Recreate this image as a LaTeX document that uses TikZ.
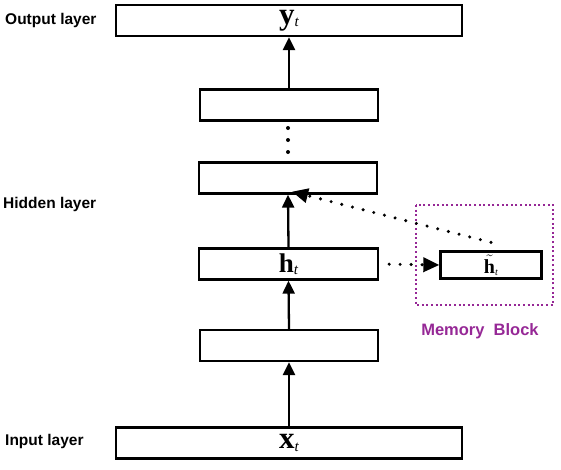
\documentclass[tikz,border=0pt]{standalone}
\usepackage{fontspec}
\setmainfont{Liberation Serif}
\setsansfont{Liberation Sans}
\usetikzlibrary{arrows.meta}
\tikzstyle{network} = [x = 1pt, y = -1pt]
\definecolor{memoryColor}{RGB}{150,40,150}
\tikzstyle{layerBox} = [draw=black, line width=2.3pt, fill=white, inner sep=0pt]
\tikzstyle{layerLink} = [line width=2.3pt, -{Triangle[length=13pt, width=12pt]}]
\tikzstyle{memoryLink} = [line width=3.4pt, line cap=round, dash pattern=on 0pt off 11pt, -{Triangle[length=16pt, width=14pt]}]
\tikzstyle{frameLine} = [draw=memoryColor, line width=2.2pt, dash pattern=on 2pt off 2.6pt]
\tikzstyle{layerText} = [font=\sffamily\bfseries\fontsize{15.5}{16}\selectfont, anchor=west, inner sep=0pt]
\tikzstyle{memoryText} = [font=\sffamily\bfseries\fontsize{16.5}{17}\selectfont, text=memoryColor, inner sep=0pt]
\newcommand{\vecLabel}[2]{{\fontsize{#2}{#2}\selectfont\textbf{#1}}\raisebox{-.25em}{\fontsize{15}{15}\selectfont\textit{t}}}
\newcommand{\layerNode}[5]{\node [layerBox, minimum width=#3pt, minimum height=#4pt] (#1) at #2 {#5};}

\begin{document}
\begin{tikzpicture}[network]
    \useasboundingbox (0,0) rectangle (561,469);
    % layers
    \layerNode{outLayer}{(289,20.5)}{346}{31}{\vecLabel{y}{31}}
    \layerNode{hiddenTop}{(289,105)}{178}{31}{}
    \layerNode{hiddenMid}{(288,178)}{178}{31}{}
    \layerNode{hiddenH}{(288.5,264)}{179}{31}{\vecLabel{h}{27}}
    \layerNode{hiddenLow}{(289,345.5)}{178}{31}{}
    \layerNode{inLayer}{(289,443)}{346}{31}{\vecLabel{x}{31}}
    % memory block
    \draw [frameLine] (416,205) rectangle (553,305);
    \node [layerBox, minimum width=101pt, minimum height=27pt] (memH) at (491,265)
        {{\fontsize{20}{20}\selectfont$\tilde{\hbox{\textbf{h}}}$}\raisebox{-.2em}{\fontsize{10}{10}\selectfont\textit{t}}};
    \node [memoryText] (memLabel) at (480,331) {Memory\ \ Block};
    % labels
    \node [layerText] (outText) at (5,20) {Output layer};
    \node [layerText] (hiddenText) at (3,204) {Hidden layer};
    \node [layerText] (inText) at (5,441) {Input layer};
    % vertical dots
    \foreach \dotY in {128,140,152} {
      \fill (288,\dotY) circle (2pt);
    }
    % connections
    \draw [layerLink] (inLayer.north) -- (hiddenLow.south);
    \draw [layerLink] (hiddenLow.north) -- (hiddenH.south);
    \draw [layerLink] (hiddenH.north) -- (hiddenMid.south);
    \draw [layerLink] (hiddenTop.north) -- (outLayer.south);
    \draw [memoryLink, shorten <=10pt] (hiddenH.east) -- (memH.west);
    \draw [memoryLink] ([yshift=8pt]memH.north) -- ([xshift=4pt, yshift=3pt]hiddenMid.south);
\end{tikzpicture}
\end{document}
